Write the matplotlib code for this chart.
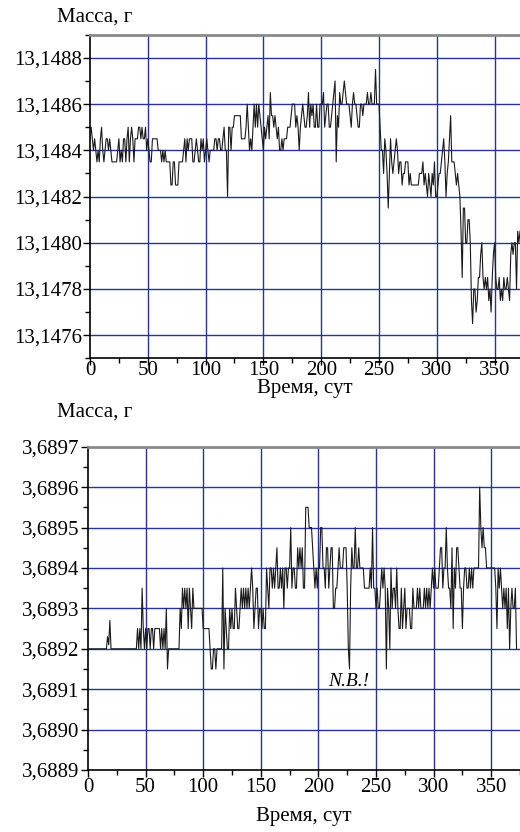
import matplotlib
matplotlib.use("Agg")
import matplotlib.pyplot as plt
import numpy as np
from matplotlib.ticker import FixedLocator

plt.rcParams["font.family"] = ["Liberation Serif", "DejaVu Serif"]

# upper sample: deviation from 13,1484 g, in units of 0,01 mg (1e-5 g), one reading per day
top_base = 13.1484
top_dev = [
    5, 10, 5, 0, 5, 0, -5, 0, -5, 5,
    10, 0, -5, 0, 5, 5, 0, 5, 0, -5,
    -5, -5, -5, -5, 0, 5, -5, 0, -5, 5,
    5, -5, 5, 10, -5, 5, 10, 5, -5, 5,
    5, 5, 10, 10, 5, 10, 5, 5, 10, 0,
    5, 0, -5, -5, 5, 5, 5, 5, 5, 0,
    0, 0, -5, 0, -5, 0, -5, -5, -5, -5,
    -15, -15, -5, -5, -15, -15, -15, -5, -5, -5,
    -5, 0, 5, -5, 5, 0, 5, 5, 5, -5,
    -5, 0, 5, 0, -5, -5, 5, 0, 5, -5,
    0, 5, 0, -5, 0, 0, 0, 0, 5, 5,
    0, 5, 5, 0, 0, 5, 10, 0, 0, -20,
    10, 10, 0, 10, 10, 15, 15, 15, 15, 15,
    15, 5, 5, 5, 5, 10, 20, 10, 0, 5,
    0, 10, 20, 10, 20, 10, 20, 15, 10, 5,
    0, 10, 5, 10, 15, 5, 25, 15, 15, 10,
    15, 10, 5, 10, 0, 0, 5, 0, 5, 5,
    5, 10, 10, 10, 15, 20, 20, 20, 10, 15,
    10, 0, 10, 15, 20, 15, 10, 10, 15, 25,
    10, 20, 15, 20, 10, 10, 20, 10, 10, 20,
    20, 20, 25, 10, 15, 20, 20, 10, 10, 15,
    20, 25, 30, -5, 15, 10, 25, 20, 20, 25,
    30, 25, 20, 20, 20, 15, 10, 20, 25, 20,
    20, 15, 10, 10, 20, 20, 15, 20, 20, 20,
    25, 20, 20, 25, 20, 20, 20, 35, 20, 20,
    20, 10, 0, 0, -10, 5, 0, -10, -25, -10,
    5, -5, -10, -5, 0, 5, 0, -10, -5, -5,
    -15, -10, -10, -5, -5, -5, -15, -10, -15, -15,
    -15, -15, -15, -15, -15, -10, -10, -10, -5, -15,
    -10, -15, -20, -10, -15, -20, -10, -15, -5, -20,
    -20, -15, -10, -10, -5, 0, 5, -5, -20, -10,
    -5, 5, 15, -5, -5, -5, -10, -15, -10, -15,
    -20, -35, -55, -25, -25, -40, -40, -30, -30, -40,
    -65, -75, -60, -60, -70, -65, -55, -55, -45, -40,
    -55, -60, -55, -60, -55, -65, -60, -70, -55, -45,
    -40, -55, -60, -60, -55, -65, -60, -65, -55, -60,
    -60, -55, -60, -65, -45, -40, -45, -40, -40, -60,
    -35, -40, -35,
]

# lower sample: deviation from 3,6892 g, in units of 0,01 mg
bot_base = 3.6892
bot_dev = [
    0, 0, 0, 0, 0, 0, 0, 0, 0, 0,
    0, 0, 0, 0, 0, 0, 0, 3, 1, 7,
    0, 0, 0, 0, 0, 0, 0, 0, 0, 0,
    0, 0, 0, 0, 0, 0, 0, 0, 0, 0,
    0, 0, 0, 5, 0, 5, 0, 15, 5, 0,
    5, 0, 5, 5, 0, 5, 5, 0, 5, 5,
    5, 5, 5, 0, 5, 0, 5, 0, 10, -5,
    0, 0, 0, 0, 0, 0, 0, 0, 0, 0,
    10, 5, 15, 10, 15, 10, 15, 5, 15, 10,
    5, 15, 10, 10, 10, 10, 10, 10, 10, 10,
    5, 5, 5, 5, 5, 5, 0, -5, -5, 0,
    0, -5, 0, 0, 0, 0, 0, 20, -5, 10,
    5, 0, 0, 10, 5, 10, 5, 5, 15, 10,
    5, 5, 10, 15, 10, 15, 10, 15, 10, 15,
    10, 15, 20, 15, 5, 10, 15, 15, 5, 10,
    10, 5, 10, 5, 5, 20, 15, 10, 20, 20,
    15, 20, 15, 20, 25, 15, 15, 20, 15, 20,
    10, 20, 20, 15, 20, 20, 30, 15, 20, 20,
    15, 15, 25, 20, 25, 20, 25, 15, 15, 35,
    35, 35, 30, 30, 30, 25, 20, 15, 20, 15,
    20, 20, 30, 30, 20, 20, 15, 25, 25, 15,
    20, 25, 25, 10, 10, 15, 15, 20, 25, 20,
    20, 20, 25, 25, 25, 15, 0, -5, 15, 25,
    20, 20, 30, 20, 20, 25, 20, 20, 20, 20,
    15, 15, 15, 15, 15, 20, 15, 30, 15, 15,
    10, 15, 10, 10, 15, 20, 15, 20, 15, -5,
    15, 10, 0, 20, 10, 15, 15, 10, 20, 10,
    5, 5, 15, 5, 10, 15, 5, 10, 10, 10,
    5, 5, 15, 10, 10, 10, 15, 10, 15, 10,
    10, 10, 15, 10, 15, 10, 15, 10, 15, 20,
    15, 20, 15, 15, 15, 20, 25, 25, 15, 20,
    20, 30, 20, 15, 15, 10, 25, 5, 20, 15,
    25, 25, 20, 15, 15, 5, 15, 20, 20, 15,
    15, 20, 15, 20, 15, 20, 20, 20, 20, 20,
    40, 30, 25, 30, 25, 25, 20, 20, 20, 20,
    20, 20, 20, 20, 15, 5, 20, 15, 20, 15,
    10, 15, 10, 15, 5, 15, 0, 10, 15, 10,
    10, 15, 0,
]

x_ticks = [0, 50, 100, 150, 200, 250, 300, 350]
top_yticks = [13.1476, 13.1478, 13.1480, 13.1482, 13.1484, 13.1486, 13.1488]
bot_yticks = [3.6889, 3.6890, 3.6891, 3.6892, 3.6893, 3.6894, 3.6895, 3.6896, 3.6897]

y_label = "Масса, г"
x_label = "Время, сут"

grid_col = "#27339a"


def mass_series(base, dev):
    dev = np.array(dev, dtype=float)
    return np.arange(len(dev)), base + dev * 1e-5


def style_axes(ax, xlim, ylim, yticks, yminor, xminor, xpad, labelpad):
    ax.set_xlim(*xlim)
    ax.set_ylim(*ylim)
    ax.xaxis.set_major_locator(FixedLocator(x_ticks))
    ax.xaxis.set_minor_locator(FixedLocator(xminor))
    ax.yaxis.set_major_locator(FixedLocator(yticks))
    ax.yaxis.set_minor_locator(FixedLocator(yminor))
    ax.set_xticklabels([str(t) for t in x_ticks])
    ax.set_yticklabels([f"{t:.4f}".replace(".", ",") for t in yticks])
    ax.tick_params(which="major", direction="out", length=5, width=1,
                   labelsize=15, pad=1, top=False, right=False)
    ax.tick_params(axis="x", which="major", pad=xpad)
    ax.tick_params(which="minor", direction="out", length=3.5, width=1,
                   top=False, right=False)
    for t in x_ticks[1:]:
        ax.axvline(t, color=grid_col, lw=1.0, zorder=1)
    for t in yticks:
        if ylim[0] < t < ylim[1]:
            ax.axhline(t, color=grid_col, lw=1.0, zorder=1)
    ax.spines["right"].set_visible(False)
    ax.spines["top"].set_color("#8a8a8a")
    ax.spines["top"].set_linewidth(2)
    ax.spines["left"].set_linewidth(1.2)
    ax.spines["bottom"].set_linewidth(1.2)
    ax.set_xlabel(x_label, fontsize=15, labelpad=labelpad)


fig = plt.figure(figsize=(5.2, 8.32), dpi=100)

# upper panel
ax1 = fig.add_axes([0.1731, 0.5693, 0.8269, 0.3889])
d1, m1 = mass_series(top_base, top_dev)
ax1.plot(d1, m1, color="#1a1a1a", lw=0.8, zorder=3)
style_axes(ax1, (0, 372), (13.1475, 13.1489), top_yticks,
           [13.1475, 13.1477, 13.1479, 13.1481, 13.1483, 13.1485, 13.1487, 13.1489],
           [25, 75, 125, 175, 225, 275, 325], xpad=-3, labelpad=-1)
fig.text(0.11, 0.979, y_label, fontsize=15, ha="left", va="center")

# lower panel
ax2 = fig.add_axes([0.1692, 0.0745, 0.8308, 0.3886])
d2, m2 = mass_series(bot_base, bot_dev)
ax2.plot(d2, m2, color="#1a1a1a", lw=0.8, zorder=3)
style_axes(ax2, (0, 375), (3.6889, 3.6897), bot_yticks,
           [3.68895, 3.68905, 3.68915, 3.68925, 3.68935, 3.68945, 3.68955, 3.68965],
           [25, 75, 125, 175, 225, 275, 325, 375], xpad=1, labelpad=7)
ax2.text(226, 3.68912, "N.B.!", fontsize=14, style="italic", ha="center", va="center")
fig.text(0.11, 0.505, y_label, fontsize=15, ha="left", va="center")

fig.savefig("out.png", dpi=100)
